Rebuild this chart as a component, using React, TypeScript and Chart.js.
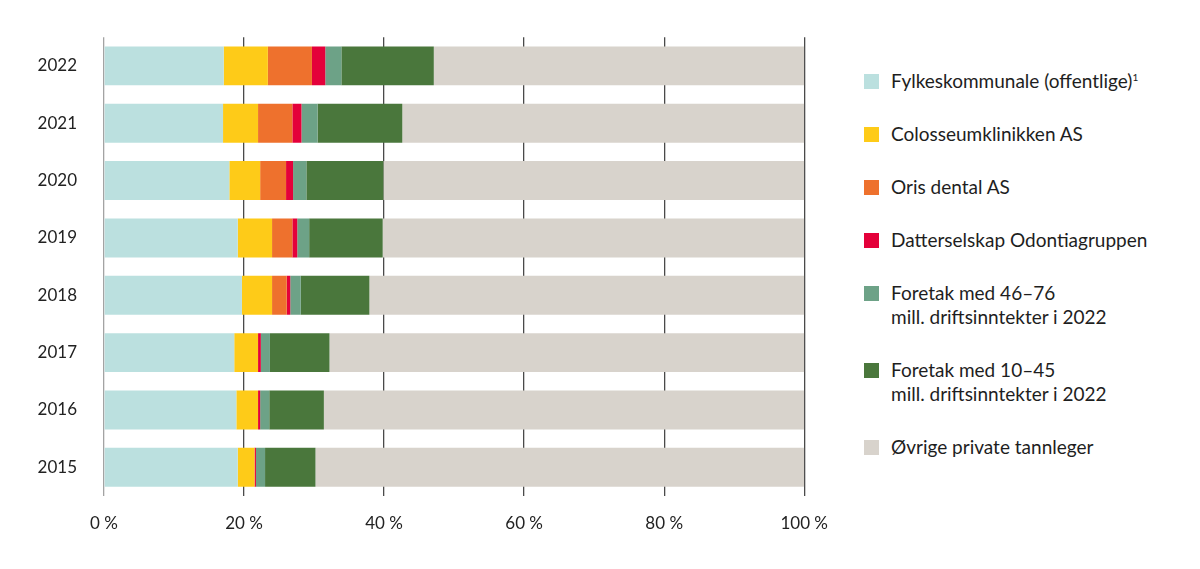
import React, { useEffect, useRef } from 'react';
import { Chart, registerables } from 'chart.js';

Chart.register(...registerables);

const years = ['2022', '2021', '2020', '2019', '2018', '2017', '2016', '2015'];

// andel i prosent, per år (2022 -> 2015)
const fylkeskommunale = [17.1, 17.0, 17.9, 19.1, 19.7, 18.6, 18.9, 19.1];
const colosseum = [6.3, 5.0, 4.4, 4.9, 4.3, 3.4, 3.1, 2.4];
const oris = [6.3, 4.9, 3.7, 2.9, 2.1, 0, 0, 0];
const odontia = [1.9, 1.3, 1.0, 0.7, 0.5, 0.4, 0.3, 0.2];
const foretak4676 = [2.3, 2.3, 1.9, 1.7, 1.5, 1.3, 1.3, 1.3];
const foretak1045 = [13.2, 12.1, 11.0, 10.5, 9.8, 8.5, 7.8, 7.2];
const ovrige = [52.9, 57.4, 60.1, 60.2, 62.1, 67.8, 68.6, 69.8];

const xTicks = [0, 20, 40, 60, 80, 100];

const FONT = 'Lato, "Noto Sans", sans-serif';

const series = [
    { label: 'Fylkeskommunale (offentlige)', sup: '1', data: fylkeskommunale, color: '#bbe0df' },
    { label: 'Colosseumklinikken AS', data: colosseum, color: '#fecb18' },
    { label: 'Oris dental AS', data: oris, color: '#ee712d' },
    { label: 'Datterselskap Odontiagruppen', data: odontia, color: '#e4003a' },
    { label: 'Foretak med 46–76', line2: 'mill. driftsinntekter i 2022', data: foretak4676, color: '#6da287' },
    { label: 'Foretak med 10–45', line2: 'mill. driftsinntekter i 2022', data: foretak1045, color: '#4a773c' },
    { label: 'Øvrige private tannleger', data: ovrige, color: '#d8d3cc' },
];

const StackedBars: React.FC = () => {
    const canvasRef = useRef<HTMLCanvasElement>(null);

    useEffect(() => {
        if (!canvasRef.current) return;
        const ctx = canvasRef.current.getContext('2d');
        if (!ctx) return;

        const chart = new Chart(ctx, {
            type: 'bar',
            data: {
                labels: years,
                datasets: series.map((s) => ({
                    label: s.label,
                    data: s.data,
                    backgroundColor: s.color,
                    borderWidth: 0,
                    categoryPercentage: 1,
                    barPercentage: 0.68,
                })),
            },
            options: {
                indexAxis: 'y',
                animation: false,
                responsive: true,
                maintainAspectRatio: false,
                layout: { padding: { top: 35, right: 26, left: 0, bottom: 0 } },
                plugins: {
                    legend: { display: false },
                    tooltip: { enabled: false },
                },
                scales: {
                    x: {
                        stacked: true,
                        min: 0,
                        max: 100,
                        afterBuildTicks: (scale: any) => {
                            scale.ticks = xTicks.map((v) => ({ value: v }));
                        },
                        afterFit: (scale: any) => {
                            scale.height = 73;
                        },
                        grid: {
                            drawTicks: false,
                            color: (c: any) => (c.tick && c.tick.value === 0 ? '#a3a3a3' : '#4a4a4a'),
                            lineWidth: 1.3,
                        },
                        border: { display: false },
                        ticks: {
                            padding: 17,
                            color: '#222',
                            font: { family: FONT, size: 17 },
                            callback: (v: any) => `${v} %`,
                        },
                    },
                    y: {
                        stacked: true,
                        afterFit: (scale: any) => {
                            scale.width = 104;
                        },
                        grid: { display: false, drawTicks: false },
                        border: { display: false },
                        ticks: {
                            padding: 27,
                            color: '#222',
                            font: { family: FONT, size: 17 },
                        },
                    },
                },
            },
        });

        return () => {
            chart.destroy();
        };
    }, []);

    return (
        <div style={{ position: 'absolute', left: 0, top: 0, width: 845, height: 569 }}>
            <canvas ref={canvasRef}></canvas>
        </div>
    );
};

const Legend: React.FC = () => (
    <div
        style={{
            position: 'absolute',
            left: 864,
            top: 69,
            display: 'flex',
            flexDirection: 'column',
            gap: 28.5,
            fontFamily: FONT,
            fontSize: 19,
            lineHeight: '24.4px',
            color: '#1e1e1e',
        }}
    >
        {series.map((s) => (
            <div key={s.label} style={{ display: 'flex', alignItems: 'flex-start' }}>
                <div
                    style={{
                        width: 15,
                        height: 15,
                        marginTop: 5,
                        marginRight: 12,
                        background: s.color,
                        flex: 'none',
                    }}
                />
                <div>
                    <div>
                        {s.label}
                        {s.sup && <sup style={{ fontSize: 10, lineHeight: 0 }}>{s.sup}</sup>}
                    </div>
                    {s.line2 && <div>{s.line2}</div>}
                </div>
            </div>
        ))}
    </div>
);

const App: React.FC = () => (
    <div style={{ position: 'absolute', left: 0, top: 0, width: 1200, height: 569, background: '#fff' }}>
        <StackedBars />
        <Legend />
    </div>
);

export default App;
